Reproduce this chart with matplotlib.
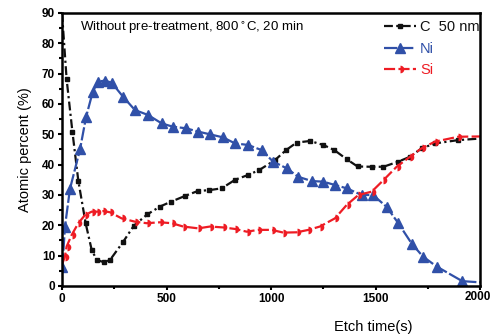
import numpy as np
import matplotlib
matplotlib.use("Agg")
import matplotlib.pyplot as plt
from matplotlib.ticker import MultipleLocator

plt.rcParams['font.family'] = ['Liberation Sans', 'DejaVu Sans']

# carbon (black squares)
c_t = [0, 22, 50, 78, 113, 142, 166, 202, 230, 293, 344, 408, 469, 522, 589, 649, 705,
       764, 828, 890, 943, 1019, 1072, 1123, 1187, 1250, 1303, 1362, 1414, 1482, 1538,
       1609, 1665, 1721, 1785, 1896, 2000]
c_pct = [90, 68.2, 50.7, 34.7, 20.7, 11.9, 8.6, 7.8, 8.6, 14.6, 19.9, 23.6, 26.2, 27.8, 29.7,
         31.3, 31.6, 32.2, 35.0, 36.6, 38.2, 41.5, 44.8, 47.3, 47.8, 46.5, 44.8, 41.8, 39.4,
         39.3, 39.3, 41.0, 42.6, 45.4, 47.0, 48.1, 48.6]
c_mark = [False] + [True] * 35 + [False]

# nickel (blue triangles)
ni_t = [2, 14, 38, 86, 115, 147, 172, 206, 238, 292, 349, 411, 477, 531, 593, 651, 708,
        770, 828, 890, 955, 1010, 1075, 1130, 1195, 1249, 1306, 1362, 1434, 1488, 1553,
        1608, 1673, 1727, 1793, 1915, 2000]
ni_pct = [6.4, 19.5, 32.0, 45.0, 55.7, 64.0, 67.4, 67.7, 67.0, 62.4, 58.0, 56.4, 53.6, 52.5,
          52.0, 50.9, 50.0, 49.0, 47.0, 46.5, 44.8, 41.0, 38.8, 36.0, 34.6, 34.4, 33.3, 32.2,
          30.0, 30.0, 26.1, 20.8, 14.0, 9.7, 6.4, 1.6, 1.2]
ni_mark = [True] * 36 + [False]

# silicon (red)
si_t = [2, 14, 22, 46, 78, 110, 142, 166, 198, 230, 285, 349, 405, 469, 525, 580, 652, 708,
        772, 828, 884, 939, 1003, 1059, 1123, 1179, 1234, 1306, 1362, 1418, 1482, 1538,
        1601, 1665, 1721, 1785, 1896, 2000]
si_pct = [7.5, 9.7, 13.0, 16.8, 20.7, 23.4, 24.5, 24.5, 24.7, 24.3, 22.3, 21.2, 20.7, 21.0,
          20.7, 19.6, 19.0, 19.6, 19.3, 18.8, 17.9, 18.5, 18.5, 17.6, 17.7, 18.5, 19.6, 22.3,
          26.7, 30.0, 31.1, 34.9, 39.3, 42.6, 45.4, 47.6, 49.2, 49.3]
si_mark = [False] + [True] * 36 + [False]

x_ticks = [0, 500, 1000, 1500, 2000]
x_ticklabels = ['0', '500', '1000', '1500', '2000']

black = '#111111'
blue = '#3050a8'
red = '#ee1c24'

fig = plt.figure(figsize=(4.91, 3.35), dpi=100)
ax = fig.add_axes([0.1263, 0.1463, 0.8513, 0.8149])

ax.plot(c_t, c_pct, color=black, lw=1.6, ls=(0, (4, 1.5, 1, 1.5)), marker='s', ms=3.3,
        markevery=c_mark, label='C  50 nm')
ax.plot(ni_t, ni_pct, color=blue, lw=1.6, ls=(0, (6, 1.2)), marker='^', ms=6.5,
        markevery=ni_mark, label='Ni')
ax.plot(si_t, si_pct, color=red, lw=1.6, ls=(0, (5, 1.5)), marker='o', ms=5.5,
        fillstyle='right', markeredgewidth=0, markevery=si_mark, label='Si')

ax.set_xlim(0, 2000)
ax.set_ylim(0, 90)
# last label sits flush with the figure edge, drawn separately below
ax.set_xticks(x_ticks, x_ticklabels[:-1] + [''])
ax.xaxis.set_minor_locator(MultipleLocator(250))
ax.yaxis.set_major_locator(MultipleLocator(10))
ax.yaxis.set_minor_locator(MultipleLocator(5))
ax.tick_params(which='both', direction='out', width=1.5, labelsize=8.5, pad=2)
ax.tick_params(which='major', length=3)
ax.tick_params(which='minor', length=2)
for lab in ax.get_xticklabels() + ax.get_yticklabels():
    lab.set_fontweight('bold')
for sp in ax.spines.values():
    sp.set_linewidth(1.8)

fig.text(0.999, 0.1313, x_ticklabels[-1], ha='right', va='top', fontsize=8.5, fontweight='bold')

ax.set_ylabel('Atomic percent (%)', fontsize=10.5, labelpad=7)
ax.set_xlabel('Etch time(s)', fontsize=10.5)
ax.xaxis.set_label_coords(0.745, -0.125)

ax.text(0.043, 0.945, 'Without pre-treatment, 800$\\,^{\\circ}$C, 20 min', transform=ax.transAxes,
        fontsize=9.5, ha='left', va='center')

leg = ax.legend(loc='upper right', bbox_to_anchor=(1.02, 1.005), frameon=False, fontsize=10.5,
                handlelength=2.2, handletextpad=0.3, labelspacing=0.5, borderaxespad=0.2)
for txt, col in zip(leg.get_texts(), [black, blue, red]):
    txt.set_color(col)

fig.savefig('out.png', dpi=100)
